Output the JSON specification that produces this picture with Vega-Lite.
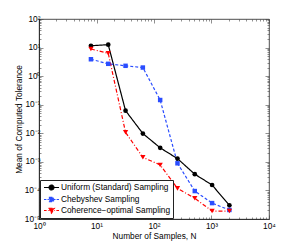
{
  "$schema": "https://vega.github.io/schema/vega-lite/v6.json",
  "width": 230,
  "height": 200,
  "autosize": "none",
  "padding": {"left": 39, "top": 19, "right": 29, "bottom": 29},
  "background": "white",
  "config": {
    "view": {"stroke": "#222", "strokeWidth": 0.8},
    "font": "Liberation Sans",
    "axis": {"grid": false, "domainColor": "#222", "domainWidth": 0.8, "tickColor": "#444", "tickWidth": 0.6, "labelFont": "Liberation Sans", "labelFontSize": 8.3, "labelColor": "#000", "titleFont": "Liberation Sans", "titleFontSize": 8.3, "titleFontWeight": "normal", "titleColor": "#000"}
  },
  "data": {"values": [
    {"N": 8, "val": 11.6, "series": "Uniform (Standard) Sampling"},
    {"N": 16, "val": 12.6, "series": "Uniform (Standard) Sampling"},
    {"N": 32, "val": 0.062, "series": "Uniform (Standard) Sampling"},
    {"N": 64, "val": 0.0098, "series": "Uniform (Standard) Sampling"},
    {"N": 128, "val": 0.0031, "series": "Uniform (Standard) Sampling"},
    {"N": 256, "val": 0.0013, "series": "Uniform (Standard) Sampling"},
    {"N": 512, "val": 0.00037, "series": "Uniform (Standard) Sampling"},
    {"N": 1024, "val": 0.000155, "series": "Uniform (Standard) Sampling"},
    {"N": 2048, "val": 0.00003, "series": "Uniform (Standard) Sampling"},
    {"N": 8, "val": 3.9, "series": "Chebyshev Sampling"},
    {"N": 16, "val": 2.7, "series": "Chebyshev Sampling"},
    {"N": 32, "val": 2.3, "series": "Chebyshev Sampling"},
    {"N": 64, "val": 2.0, "series": "Chebyshev Sampling"},
    {"N": 128, "val": 0.146, "series": "Chebyshev Sampling"},
    {"N": 256, "val": 0.00089, "series": "Chebyshev Sampling"},
    {"N": 512, "val": 0.000095, "series": "Chebyshev Sampling"},
    {"N": 1024, "val": 0.000036, "series": "Chebyshev Sampling"},
    {"N": 2048, "val": 0.0000207, "series": "Chebyshev Sampling"},
    {"N": 8, "val": 8.9, "series": "Coherence−optimal Sampling"},
    {"N": 16, "val": 6.3, "series": "Coherence−optimal Sampling"},
    {"N": 32, "val": 0.0108, "series": "Coherence−optimal Sampling"},
    {"N": 64, "val": 0.00144, "series": "Coherence−optimal Sampling"},
    {"N": 128, "val": 0.00078, "series": "Coherence−optimal Sampling"},
    {"N": 256, "val": 0.000118, "series": "Coherence−optimal Sampling"},
    {"N": 512, "val": 0.000053, "series": "Coherence−optimal Sampling"},
    {"N": 1024, "val": 0.000019, "series": "Coherence−optimal Sampling"},
    {"N": 2048, "val": 0.000019, "series": "Coherence−optimal Sampling"}
  ]},
  "resolve": {"axis": {"x": "independent", "y": "independent"}},
  "layer": [
    {
      "mark": {"type": "line", "strokeWidth": 1.2},
      "encoding": {
        "x": {"field": "N", "type": "quantitative", "scale": {"type": "log", "domain": [1, 10000], "nice": false},
          "axis": {"orient": "bottom", "title": "Number of Samples, N", "titlePadding": 0, "labelPadding": 6, "labelFlush": false, "labelOverlap": false,
            "values": [1,2,3,4,5,6,7,8,9,10,20,30,40,50,60,70,80,90,100,200,300,400,500,600,700,800,900,1000,2000,3000,4000,5000,6000,7000,8000,9000,10000],
            "tickSize": {"condition": {"test": "abs(log(datum.value)/LN10 - round(log(datum.value)/LN10)) < 0.001", "value": -4}, "value": -2},
            "labelExpr": "abs(log(datum.value)/LN10 - round(log(datum.value)/LN10)) < 0.001 ? '10' + ['⁻⁵','⁻⁴','⁻³','⁻²','⁻¹','⁰','¹','²','³','⁴'][round(log(datum.value)/LN10)+5] : ''"}},
        "y": {"field": "val", "type": "quantitative", "scale": {"type": "log", "domain": [0.00001, 100], "nice": false},
          "axis": {"orient": "left", "title": "Mean of Computed Tolerance", "titlePadding": 1, "labelPadding": 3, "labelFlush": false, "labelOverlap": false,
            "values": [0.00001,0.00002,0.00003,0.00004,0.00005,0.00006,0.00007,0.00008,0.00009,0.0001,0.0002,0.0003,0.0004,0.0005,0.0006,0.0007,0.0008,0.0009,0.001,0.002,0.003,0.004,0.005,0.006,0.007,0.008,0.009,0.01,0.02,0.03,0.04,0.05,0.06,0.07,0.08,0.09,0.1,0.2,0.3,0.4,0.5,0.6,0.7,0.8,0.9,1,2,3,4,5,6,7,8,9,10,20,30,40,50,60,70,80,90,100],
            "tickSize": {"condition": {"test": "abs(log(datum.value)/LN10 - round(log(datum.value)/LN10)) < 0.001", "value": -4}, "value": -2},
            "labelExpr": "abs(log(datum.value)/LN10 - round(log(datum.value)/LN10)) < 0.001 ? '10' + ['⁻⁵','⁻⁴','⁻³','⁻²','⁻¹','⁰','¹','²','³','⁴'][round(log(datum.value)/LN10)+5] : ''"}},
        "color": {"field": "series", "type": "nominal",
          "scale": {"domain": ["Uniform (Standard) Sampling", "Chebyshev Sampling", "Coherence−optimal Sampling"], "range": ["#000000", "#2a4dff", "#ff0000"]},
          "legend": {"title": null, "orient": "bottom-left", "offset": 1, "padding": 2, "fillColor": "white", "strokeColor": "#222",
            "labelFont": "Liberation Sans", "labelFontSize": 8.3, "labelColor": "#000", "labelOffset": 8, "symbolSize": 81, "rowPadding": 1, "labelLimit": 300,
            "encode": {"symbols": {"update": {
              "shape": {"signal": "datum.value === 'Uniform (Standard) Sampling' ? 'M-0.78,0H2.56M1.44,0A0.55,0.55,0,1,1,0.34,0A0.55,0.55,0,1,1,1.44,0Z' : datum.value === 'Chebyshev Sampling' ? 'M-0.78,0H-0.25M0,0H0.3M1.48,0H1.78M2.03,0H2.56M0.42,-0.47H1.36V0.47H0.42Z' : 'M-0.78,0H-0.2M0.1,0H0.25M1.53,0H1.68M1.98,0H2.56M0.22,-0.5H1.56L0.89,0.62Z'"},
              "stroke": {"signal": "datum.value === 'Uniform (Standard) Sampling' ? '#000000' : datum.value === 'Chebyshev Sampling' ? '#2a4dff' : '#ff0000'"},
              "fill": {"signal": "datum.value === 'Uniform (Standard) Sampling' ? '#000000' : datum.value === 'Chebyshev Sampling' ? '#2a4dff' : '#ff0000'"},
              "strokeWidth": {"value": 1.1},
              "strokeDash": {"value": [1, 0]},
              "opacity": {"value": 1}
            }}}}},
        "strokeDash": {"field": "series", "type": "nominal", "legend": null,
          "scale": {"domain": ["Uniform (Standard) Sampling", "Chebyshev Sampling", "Coherence−optimal Sampling"], "range": [[1, 0], [3, 2], [4, 2, 1, 2]]}}
      }
    },
    {
      "transform": [{"filter": "datum.series === 'Uniform (Standard) Sampling'"}],
      "mark": {"type": "point", "shape": "circle", "filled": true, "opacity": 1, "size": 22},
      "encoding": {
        "x": {"field": "N", "type": "quantitative",
          "axis": {"orient": "top", "title": null, "labels": false, "domain": false,
            "values": [1,2,3,4,5,6,7,8,9,10,20,30,40,50,60,70,80,90,100,200,300,400,500,600,700,800,900,1000,2000,3000,4000,5000,6000,7000,8000,9000,10000],
            "tickSize": {"condition": {"test": "abs(log(datum.value)/LN10 - round(log(datum.value)/LN10)) < 0.001", "value": -4}, "value": -2}}},
        "y": {"field": "val", "type": "quantitative",
          "axis": {"orient": "right", "title": null, "labels": false, "domain": false,
            "values": [0.00001,0.00002,0.00003,0.00004,0.00005,0.00006,0.00007,0.00008,0.00009,0.0001,0.0002,0.0003,0.0004,0.0005,0.0006,0.0007,0.0008,0.0009,0.001,0.002,0.003,0.004,0.005,0.006,0.007,0.008,0.009,0.01,0.02,0.03,0.04,0.05,0.06,0.07,0.08,0.09,0.1,0.2,0.3,0.4,0.5,0.6,0.7,0.8,0.9,1,2,3,4,5,6,7,8,9,10,20,30,40,50,60,70,80,90,100],
            "tickSize": {"condition": {"test": "abs(log(datum.value)/LN10 - round(log(datum.value)/LN10)) < 0.001", "value": -4}, "value": -2}}},
        "color": {"field": "series", "type": "nominal", "legend": null}
      }
    },
    {
      "transform": [{"filter": "datum.series === 'Chebyshev Sampling'"}],
      "mark": {"type": "point", "shape": "square", "filled": true, "opacity": 1, "size": 20},
      "encoding": {
        "x": {"field": "N", "type": "quantitative", "axis": null},
        "y": {"field": "val", "type": "quantitative", "axis": null},
        "color": {"field": "series", "type": "nominal", "legend": null}
      }
    },
    {
      "transform": [{"filter": "datum.series === 'Coherence−optimal Sampling'"}],
      "mark": {"type": "point", "shape": "triangle-down", "filled": true, "opacity": 1, "size": 28},
      "encoding": {
        "x": {"field": "N", "type": "quantitative", "axis": null},
        "y": {"field": "val", "type": "quantitative", "axis": null},
        "color": {"field": "series", "type": "nominal", "legend": null}
      }
    }
  ]
}
